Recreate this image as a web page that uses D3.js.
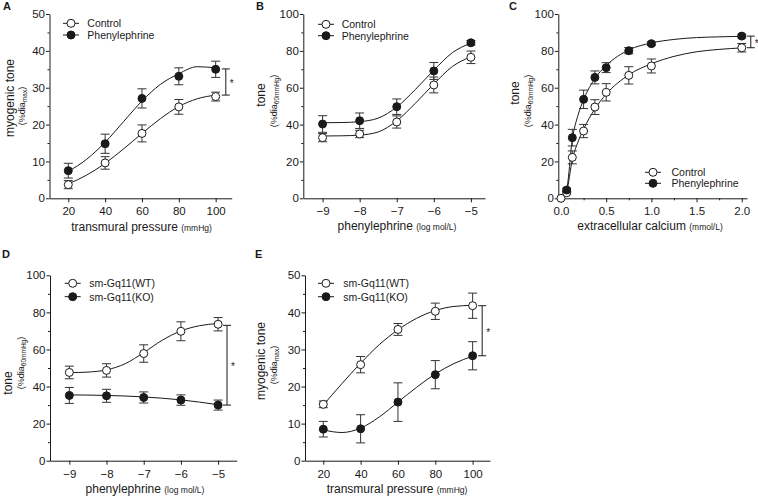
<!DOCTYPE html>
<html>
<head>
<meta charset="utf-8">
<style>
body { margin: 0; background: #fff; }
svg { font-family: "Liberation Sans", Arial, sans-serif; }
.axis text { font-size: 11.5px; fill: #1a1a1a; }
.axis path, .axis line { stroke: #1a1a1a; }
</style>
</head>
<body>
<svg width="758" height="498"></svg>
<script src="https://cdn.jsdelivr.net/npm/d3@7"></script>
<script>

// ---- data ----
// A: myogenic tone vs transmural pressure
var aPressure = [20, 40, 60, 80, 100];
var aControl = [3.7, 9.6, 17.6, 24.8, 27.6];
var aControlErr = [1.1, 1.7, 2.3, 2.0, 1.2];
var aPhenyl = [7.5, 14.8, 27.1, 33.1, 35.0];
var aPhenylErr = [2.0, 2.6, 2.6, 2.3, 2.2];
var aFitX = [20, 30, 40, 50, 60, 70, 80, 90, 100];
var aControlFit = [3.9, 6.3, 9.5, 13.4, 17.6, 21.6, 24.9, 27.0, 28.0];
var aPhenylFit = [7.3, 10.6, 15.2, 20.8, 26.4, 30.9, 33.8, 35.7, 35.4];

// B: tone vs phenylephrine
var bLogConc = [-9, -8, -7, -6, -5];
var bControl = [32.9, 34.9, 41.4, 61.5, 76.5];
var bControlErr = [2.2, 2.0, 3.3, 4.3, 3.4];
var bPhenyl = [40.3, 42.1, 49.7, 69.1, 84.4];
var bPhenylErr = [4.5, 4.2, 4.2, 4.6, 1.2];
var bFitX = [-9, -8.5, -8, -7.5, -7, -6.5, -6, -5.5, -5];
var bControlFit = [33.8, 33.9, 34.3, 36.0, 42.0, 51.5, 62.0, 71.5, 76.8];
var bPhenylFit = [41.0, 41.1, 41.6, 43.5, 49.5, 59.0, 69.5, 79.0, 84.2];

// C: tone vs extracellular calcium
var cCalcium = [0, 0.0625, 0.125, 0.25, 0.375, 0.5, 0.75, 1, 2];
var cControl = [0, 3.0, 22.2, 36.5, 49.5, 57.5, 66.7, 71.8, 81.7];
var cControlErr = [0, 0.8, 3.5, 3.6, 4.0, 4.7, 4.7, 3.8, 2.3];
var cPhenylCalcium = [0.0625, 0.125, 0.25, 0.375, 0.5, 0.75, 1, 2];
var cPhenyl = [4.5, 32.9, 53.7, 65.6, 70.9, 80.1, 83.9, 88.0];
var cPhenylErr = [1.0, 4.5, 5.0, 3.5, 2.7, 1.7, 1.0, 1.0];
var cFitX = [0, 0.0625, 0.125, 0.1875, 0.25, 0.375, 0.5, 0.75, 1, 1.25, 1.5, 1.75, 2];
var cControlFit = [0, 4, 21, 30.5, 37.5, 48.5, 56.5, 67, 73, 77, 79.5, 80.8, 81.6];
var cPhenylFit = [0, 5, 32, 45, 53.5, 65, 72, 80.5, 84.3, 86.2, 87.2, 87.6, 87.9];

// D: tone vs phenylephrine, WT vs KO
var dLogConc = [-9, -8, -7, -6, -5];
var dWT = [47.6, 48.7, 57.8, 69.8, 73.6];
var dWTErr = [3.4, 3.6, 4.7, 5.1, 3.6];
var dKO = [35.2, 35.0, 34.1, 32.7, 30.0];
var dKOErr = [4.3, 3.5, 3.0, 2.8, 2.7];
var dFitX = [-9, -8.5, -8, -7.5, -7, -6.5, -6, -5.5, -5];
var dWTFit = [47.5, 47.8, 49.0, 52.3, 58.3, 65.0, 70.0, 72.8, 74.0];
var dKOFit = [35.5, 35.4, 35.2, 34.9, 34.4, 33.7, 32.8, 31.6, 30.2];

// E: myogenic tone vs transmural pressure, WT vs KO
var ePressure = [20, 40, 60, 80, 100];
var eWT = [15.2, 25.9, 35.4, 40.3, 41.8];
var eWTErr = [0.9, 2.2, 1.6, 2.2, 3.4];
var eKO = [8.5, 8.6, 15.8, 23.2, 28.3];
var eKOErr = [2.1, 3.8, 5.2, 3.8, 3.8];
var eFitX = [20, 30, 40, 50, 60, 70, 80, 90, 100];
var eWTFit = [15.0, 20.8, 26.3, 31.3, 35.3, 38.4, 40.5, 41.6, 41.9];
var eKOFit = [8.3, 7.6, 8.8, 11.8, 15.8, 19.8, 23.4, 26.2, 28.2];

var pressureTicks = [20, 40, 60, 80, 100];
var logTicks = [-9, -8, -7, -6, -5];
var calciumTicks = [0, 0.5, 1, 1.5, 2];
var calciumMinor = [0.25, 0.75, 1.25, 1.75];
var tone50Ticks = [0, 10, 20, 30, 40, 50];
var tone50Minor = [5, 15, 25, 35, 45];
var tone100Ticks = [0, 20, 40, 60, 80, 100];
var tone100Minor = [10, 30, 50, 70, 90];

// ---- drawing ----
var svg = d3.select("svg");
var ink = "#1a1a1a";

function drawPanel(p) {
  var g = svg.append("g");
  var x = d3.scaleLinear().domain(p.xDomain).range([p.left, p.right]);
  var y = d3.scaleLinear().domain([0, p.yMax]).range([p.bottom, p.top]);

  // axes
  g.append("g").attr("class", "axis")
      .attr("transform", "translate(0," + p.bottom + ")")
      .call(d3.axisBottom(x).tickValues(p.xTicks).tickFormat(p.xFormat)
        .tickSize(4).tickPadding(5).tickSizeOuter(0));
  if (p.xMinor) {
    g.append("g").attr("class", "axis")
        .attr("transform", "translate(0," + p.bottom + ")")
        .call(d3.axisBottom(x).tickValues(p.xMinor).tickFormat("").tickSize(2).tickSizeOuter(0))
      .select(".domain").remove();
  }
  g.append("g").attr("class", "axis")
      .attr("transform", "translate(" + p.left + ",0)")
      .call(d3.axisLeft(y).tickValues(p.yTicks).tickSize(3.5).tickPadding(1).tickSizeOuter(0));
  g.append("g").attr("class", "axis")
      .attr("transform", "translate(" + p.left + ",0)")
      .call(d3.axisLeft(y).tickValues(p.yMinor).tickFormat("").tickSize(2).tickSizeOuter(0))
    .select(".domain").remove();
  g.selectAll(".axis text").attr("font-family", "Liberation Sans, Arial, sans-serif");

  // panel letter
  g.append("text").attr("x", p.letterX).attr("y", p.letterY)
      .attr("font-size", 11).attr("font-weight", "bold").attr("fill", ink).text(p.letter);

  // x title
  var xt = g.append("text").attr("x", p.xTitleX).attr("y", p.xTitleY)
      .attr("text-anchor", "middle").attr("font-size", 12).attr("fill", ink);
  xt.append("tspan").text(p.xTitle + " ");
  xt.append("tspan").attr("font-size", 8.5).text(p.xUnit);

  // y title (two lines)
  g.append("text")
      .attr("transform", "translate(" + p.yTitleX + "," + p.yTitleY + ") rotate(-90)")
      .attr("text-anchor", "middle").attr("font-size", 12).attr("fill", ink)
      .text(p.yTitle);
  var ys = g.append("text")
      .attr("transform", "translate(" + p.ySubX + "," + p.ySubY + ") rotate(-90)")
      .attr("text-anchor", "middle").attr("font-size", 9).attr("fill", ink);
  ys.append("tspan").text("(%dia");
  ys.append("tspan").attr("font-size", 6.5).attr("dy", 2).text(p.ySub);
  ys.append("tspan").attr("dy", -2).text(")");

  var line = d3.line().x(function(d) { return x(d[0]); }).y(function(d) { return y(d[1]); })
      .curve(d3.curveMonotoneX);

  // fitted curves
  p.series.forEach(function(s) {
    g.append("path")
        .datum(s.fitX.map(function(v, i) { return [v, s.fit[i]]; }))
        .attr("fill", "none").attr("stroke", ink).attr("stroke-width", 1)
        .attr("d", line);
  });

  // error bars and markers
  p.series.forEach(function(s) {
    var pts = s.x.map(function(v, i) { return {x: v, y: s.y[i], e: s.err[i]}; });
    var eb = g.append("g").attr("stroke", "#333").attr("stroke-width", 1)
      .selectAll("g").data(pts.filter(function(d) { return d.e > 0; })).enter().append("g");
    eb.append("line")
        .attr("x1", function(d) { return x(d.x); }).attr("x2", function(d) { return x(d.x); })
        .attr("y1", function(d) { return y(d.y + d.e); }).attr("y2", function(d) { return y(d.y - d.e); });
    [1, -1].forEach(function(sg) {
      eb.append("line")
          .attr("x1", function(d) { return x(d.x) - 4.5; }).attr("x2", function(d) { return x(d.x) + 4.5; })
          .attr("y1", function(d) { return y(d.y + sg * d.e); }).attr("y2", function(d) { return y(d.y + sg * d.e); });
    });
    g.append("g").selectAll("circle").data(pts).enter().append("circle")
        .attr("cx", function(d) { return x(d.x); }).attr("cy", function(d) { return y(d.y); })
        .attr("r", 4).attr("fill", s.filled ? ink : "#fff")
        .attr("stroke", ink).attr("stroke-width", 1);
  });

  // legend
  p.series.forEach(function(s, i) {
    var ly = p.legendY + i * p.legendGap;
    g.append("line").attr("x1", p.legendX - 8).attr("x2", p.legendX + 8)
        .attr("y1", ly).attr("y2", ly).attr("stroke", ink);
    g.append("circle").attr("cx", p.legendX).attr("cy", ly).attr("r", 4)
        .attr("fill", s.filled ? ink : "#fff").attr("stroke", ink);
    g.append("text").attr("x", p.legendX + p.legendText).attr("y", ly + 3.8)
        .attr("font-size", 10.5).attr("fill", ink).text(s.name);
  });

  // significance bracket
  if (p.bracket) {
    var b = p.bracket, bx = x(b.x);
    var bg = g.append("g").attr("stroke", ink).attr("stroke-width", 1);
    bg.append("line").attr("x1", bx).attr("x2", bx).attr("y1", y(b.y1)).attr("y2", y(b.y2));
    [b.y1, b.y2].forEach(function(v) {
      bg.append("line").attr("x1", bx - 4).attr("x2", bx + 4).attr("y1", y(v)).attr("y2", y(v));
    });
    g.append("text").attr("x", bx + 4).attr("y", (y(b.y1) + y(b.y2)) / 2 + 5)
        .attr("font-size", 10).attr("fill", ink).text("*");
  }
}

var fmt0 = d3.format("d"), fmt1 = d3.format(".1f");

drawPanel({
  letter: "A", letterX: 3, letterY: 10,
  left: 49.5, right: 231.7, top: 14, bottom: 198.3,
  xDomain: [9.8, 108.7], yMax: 50,
  xTicks: pressureTicks, xFormat: fmt0, yTicks: tone50Ticks, yMinor: tone50Minor,
  xTitle: "transmural pressure", xUnit: "(mmHg)", xTitleX: 141.5, xTitleY: 230.5,
  yTitle: "myogenic tone", yTitleX: 14, yTitleY: 98, ySub: "max", ySubX: 24.5, ySubY: 106,
  legendX: 71, legendY: 23.3, legendGap: 11.7, legendText: 16.3,
  bracket: {x: 105.5, y1: 35.1, y2: 28},
  series: [
    {name: "Control", filled: false, x: aPressure, y: aControl, err: aControlErr, fitX: aFitX, fit: aControlFit},
    {name: "Phenylephrine", filled: true, x: aPressure, y: aPhenyl, err: aPhenylErr, fitX: aFitX, fit: aPhenylFit}
  ]
});

drawPanel({
  letter: "B", letterX: 256, letterY: 10,
  left: 303.3, right: 485, top: 14, bottom: 198.3,
  xDomain: [-9.52, -4.62], yMax: 100,
  xTicks: logTicks, xFormat: fmt0, yTicks: tone100Ticks, yMinor: tone100Minor,
  xTitle: "phenylephrine", xUnit: "(log mol/L)", xTitleX: 397, xTitleY: 230,
  yTitle: "tone", yTitleX: 265, yTitleY: 95, ySub: "60mmHg", ySubX: 276.5, ySubY: 101,
  legendX: 326, legendY: 24.3, legendGap: 11.4, legendText: 15.7,
  series: [
    {name: "Control", filled: false, x: bLogConc, y: bControl, err: bControlErr, fitX: bFitX, fit: bControlFit},
    {name: "Phenylephrine", filled: true, x: bLogConc, y: bPhenyl, err: bPhenylErr, fitX: bFitX, fit: bPhenylFit}
  ]
});

drawPanel({
  letter: "C", letterX: 509, letterY: 10,
  left: 558.3, right: 747, top: 14, bottom: 198.3,
  xDomain: [-0.03, 2.058], yMax: 100,
  xTicks: calciumTicks, xMinor: calciumMinor, xFormat: fmt1, yTicks: tone100Ticks, yMinor: tone100Minor,
  xTitle: "extracellular calcium", xUnit: "(mmol/L)", xTitleX: 650, xTitleY: 229.5,
  yTitle: "tone", yTitleX: 519, yTitleY: 93, ySub: "60mmHg", ySubX: 530.5, ySubY: 101,
  legendX: 653, legendY: 172.3, legendGap: 11, legendText: 18.5,
  bracket: {x: 2.1, y1: 88, y2: 81.7},
  series: [
    {name: "Control", filled: false, x: cCalcium, y: cControl, err: cControlErr, fitX: cFitX, fit: cControlFit},
    {name: "Phenylephrine", filled: true, x: cPhenylCalcium, y: cPhenyl, err: cPhenylErr, fitX: cFitX, fit: cPhenylFit}
  ]
});

drawPanel({
  letter: "D", letterX: 2, letterY: 258,
  left: 50, right: 236.7, top: 275.3, bottom: 460.7,
  xDomain: [-9.52, -4.5], yMax: 100,
  xTicks: logTicks, xFormat: fmt0, yTicks: tone100Ticks, yMinor: tone100Minor,
  xTitle: "phenylephrine", xUnit: "(log mol/L)", xTitleX: 145, xTitleY: 493,
  yTitle: "tone", yTitleX: 12, yTitleY: 383, ySub: "60mmHg", ySubX: 23.5, ySubY: 363,
  legendX: 72.7, legendY: 283.3, legendGap: 13.4, legendText: 16.6,
  bracket: {x: -4.76, y1: 73, y2: 30},
  series: [
    {name: "sm-Gq11(WT)", filled: false, x: dLogConc, y: dWT, err: dWTErr, fitX: dFitX, fit: dWTFit},
    {name: "sm-Gq11(KO)", filled: true, x: dLogConc, y: dKO, err: dKOErr, fitX: dFitX, fit: dKOFit}
  ]
});

drawPanel({
  letter: "E", letterX: 255, letterY: 258,
  left: 305, right: 490, top: 275.3, bottom: 460.7,
  xDomain: [10.2, 109.3], yMax: 50,
  xTicks: pressureTicks, xFormat: fmt0, yTicks: tone50Ticks, yMinor: tone50Minor,
  xTitle: "transmural pressure", xUnit: "(mmHg)", xTitleX: 397, xTitleY: 493,
  yTitle: "myogenic tone", yTitleX: 265, yTitleY: 361, ySub: "max", ySubX: 276.5, ySubY: 365,
  legendX: 326, legendY: 283.3, legendGap: 13.4, legendText: 17.3,
  bracket: {x: 105.1, y1: 41.8, y2: 28.3},
  series: [
    {name: "sm-Gq11(WT)", filled: false, x: ePressure, y: eWT, err: eWTErr, fitX: eFitX, fit: eWTFit},
    {name: "sm-Gq11(KO)", filled: true, x: ePressure, y: eKO, err: eKOErr, fitX: eFitX, fit: eKOFit}
  ]
});

</script>
</body>
</html>
